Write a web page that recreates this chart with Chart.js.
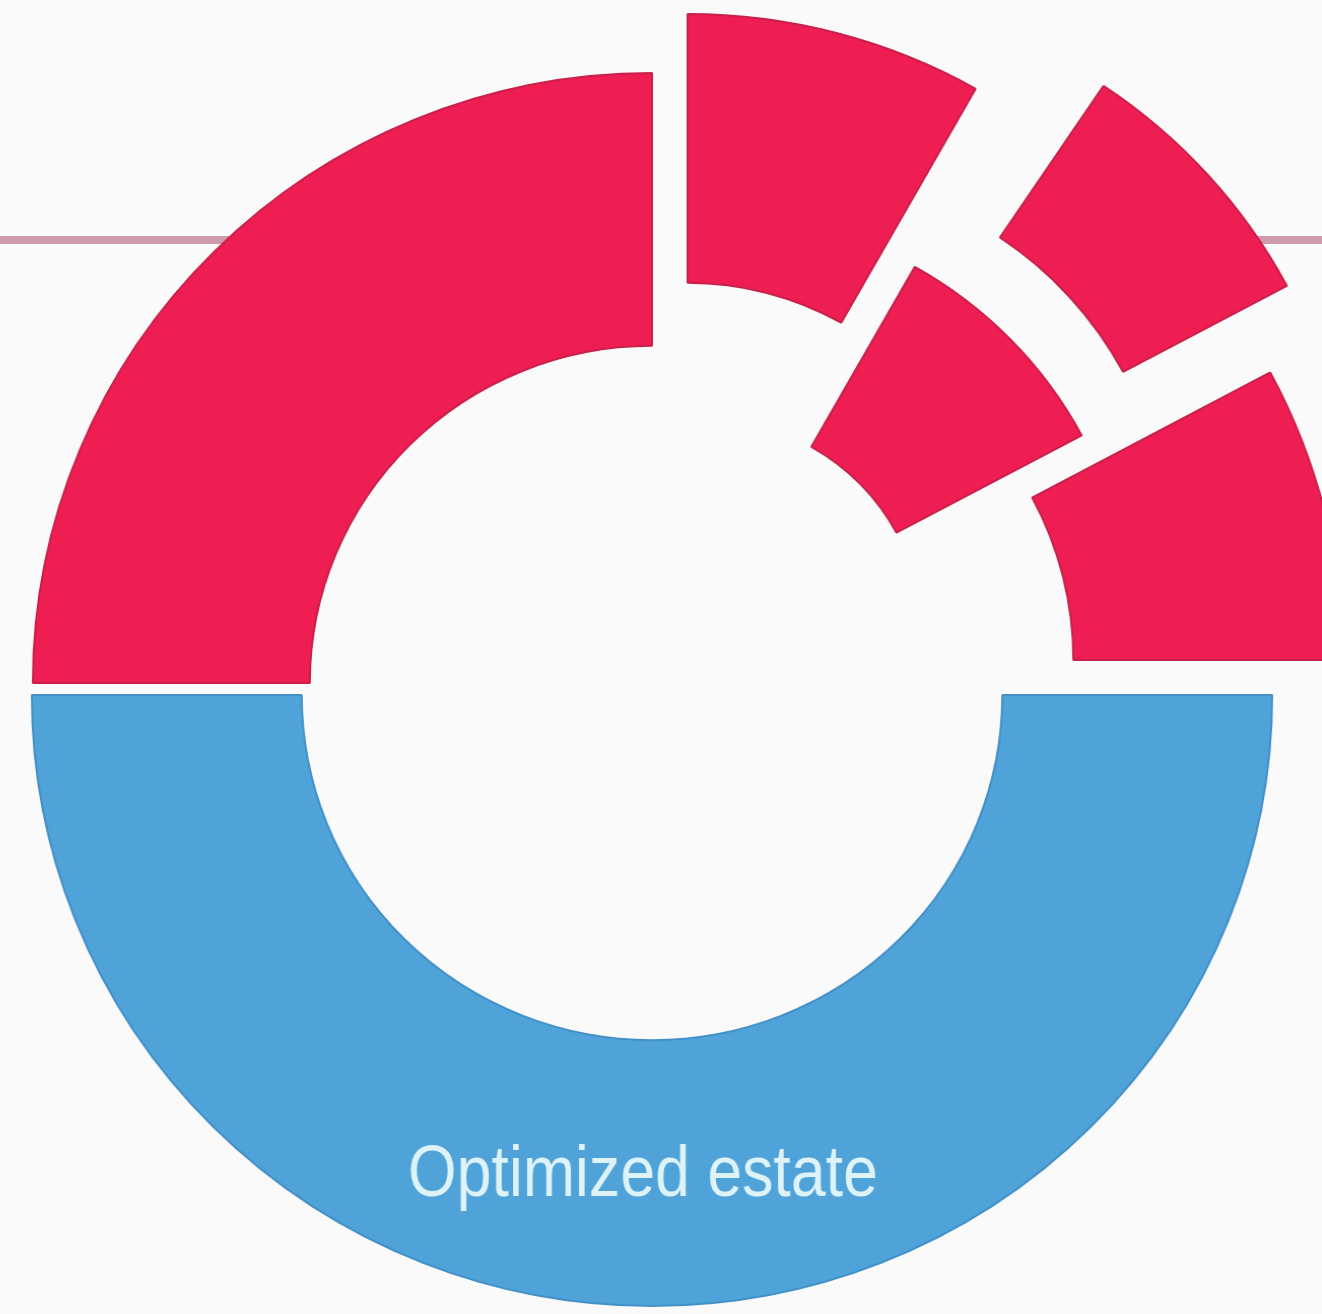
<!DOCTYPE html>
<html lang="en">

<head>
    <meta charset="UTF-8">
    <meta name="viewport" content="width=device-width, initial-scale=1.0">
    <title>Optimized estate</title>
    <style>
        html, body { margin: 0; padding: 0; background: #fafafa; overflow: hidden; }
        #wrap { position: relative; width: 1322px; height: 1314px; }
        /* the source picture is slightly wider than tall */
        #ctx { transform: scaleX(1.015); transform-origin: 652px 0; }
    </style>
</head>

<body>
    <div id="wrap"><canvas id="ctx"></canvas></div>

    <script src="https://cdn.jsdelivr.net/npm/chart.js"></script>
    <script>
        // Segments, clockwise from 12 o'clock
        const categories = ['Step 1', 'Step 2', 'Step 3', 'Optimized estate', 'Current estate'];

        // Share of the whole ring (%)
        const shares = [8.2, 9.0, 7.8, 50, 25];

        // Only these segments carry a text label
        const labelled = ['Optimized estate'];

        // Colours
        const red = '#ee1e52';
        const redEdge = '#c9204b';
        const blue = '#4fa3d8';
        const blueEdge = '#4390c8';

        // How far each piece is pulled away from the ring centre (px)
        const pullX = [35, 134, 70, 0, 0];
        const pullY = [-99, -141, -29, 6, -6];
        // Change of outer / inner radius per piece (px)
        const growOuter = [-35, -54, 0, 0, -1];
        const growInner = [-35, 32, 3, 3, -5];
        // Degrees trimmed off the start of a piece
        const trimStart = [0, 4.4, 0, 0, 0];

        // Second piece also has a smaller inner fragment
        const fragIndex = 1;
        const fragPullX = 51, fragPullY = -55;
        const fragOuter = -189, fragInner = -127;

        // Label text
        const labelFont = '72px "Liberation Sans", Arial, sans-serif';
        const labelWidth = 463;
        const labelNudgeX = -9;
        const labelNudgeY = 3;

        const toRad = Math.PI / 180;

        // Move / resize the arcs after Chart.js has laid them out
        const explode = {
            id: 'explode',
            afterDatasetsUpdate(chart) {
                const outerR = chart.getDatasetMeta(0).controller.outerRadius;
                const innerR = chart.getDatasetMeta(1).controller.innerRadius;

                chart.getDatasetMeta(0).data.forEach((arc, i) => {
                    arc.x += pullX[i];
                    arc.y += pullY[i];
                    arc.outerRadius = outerR + growOuter[i];
                    arc.innerRadius = innerR + growInner[i];
                    arc.startAngle += trimStart[i] * toRad;
                    arc.circumference = arc.endAngle - arc.startAngle;
                });

                chart.getDatasetMeta(1).data.forEach((arc, i) => {
                    if (i !== fragIndex) return;
                    arc.x += fragPullX;
                    arc.y += fragPullY;
                    arc.outerRadius = outerR + fragOuter;
                    arc.innerRadius = innerR + fragInner;
                });
            }
        };

        // Pink rule behind the ring
        const backdrop = {
            id: 'backdrop',
            beforeDatasetsDraw(chart) {
                const { ctx, width, height, chartArea } = chart;
                const cx = (chartArea.left + chartArea.right) / 2;
                const cy = (chartArea.top + chartArea.bottom) / 2;
                const r = chart.getDatasetMeta(0).controller.outerRadius + 2;
                ctx.save();
                ctx.beginPath();
                ctx.rect(0, 0, width, height);
                ctx.arc(cx, cy, r, 0, Math.PI * 2);
                ctx.clip('evenodd');
                ctx.fillStyle = '#cf9aab';
                ctx.fillRect(0, 236, width, 8);
                ctx.restore();
            }
        };

        // Label drawn in the middle of the labelled slice
        const sliceLabels = {
            id: 'sliceLabels',
            afterDatasetsDraw(chart) {
                const ctx = chart.ctx;
                chart.getDatasetMeta(0).data.forEach((arc, i) => {
                    if (!labelled.includes(categories[i])) return;
                    const p = arc.tooltipPosition();
                    ctx.save();
                    ctx.font = labelFont;
                    ctx.fillStyle = '#ddf3f8';
                    ctx.textAlign = 'center';
                    ctx.textBaseline = 'middle';
                    ctx.fillText(categories[i], p.x + labelNudgeX, p.y + labelNudgeY, labelWidth);
                    ctx.restore();
                });
            }
        };

        const outerColors = shares.map((v, i) => i === 3 ? blue : red);
        const outerEdges = shares.map((v, i) => i === 3 ? blueEdge : redEdge);
        const fragColors = shares.map((v, i) => i === fragIndex ? red : 'rgba(0,0,0,0)');
        const fragEdges = shares.map((v, i) => i === fragIndex ? redEdge : 'rgba(0,0,0,0)');
        const fragBorder = shares.map((v, i) => i === fragIndex ? 2 : 0);

        const ctx = document.getElementById('ctx').getContext('2d');

        new Chart(ctx, {
            type: 'doughnut',
            data: {
                labels: categories,
                datasets: [
                    {
                        data: shares,
                        backgroundColor: outerColors,
                        borderColor: outerEdges,
                        borderWidth: 2,
                        hoverOffset: 0
                    },
                    {
                        data: shares,
                        backgroundColor: fragColors,
                        borderColor: fragEdges,
                        borderWidth: fragBorder,
                        hoverOffset: 0
                    }
                ]
            },
            options: {
                responsive: true,
                maintainAspectRatio: false,
                animation: false,
                events: [],
                radius: 611,
                cutout: '56%',
                layout: { padding: { left: 0, right: 18, top: 64, bottom: 0 } },
                plugins: {
                    legend: { display: false },
                    tooltip: { enabled: false }
                }
            },
            plugins: [backdrop, explode, sliceLabels]
        });
    </script>
</body>

</html>
